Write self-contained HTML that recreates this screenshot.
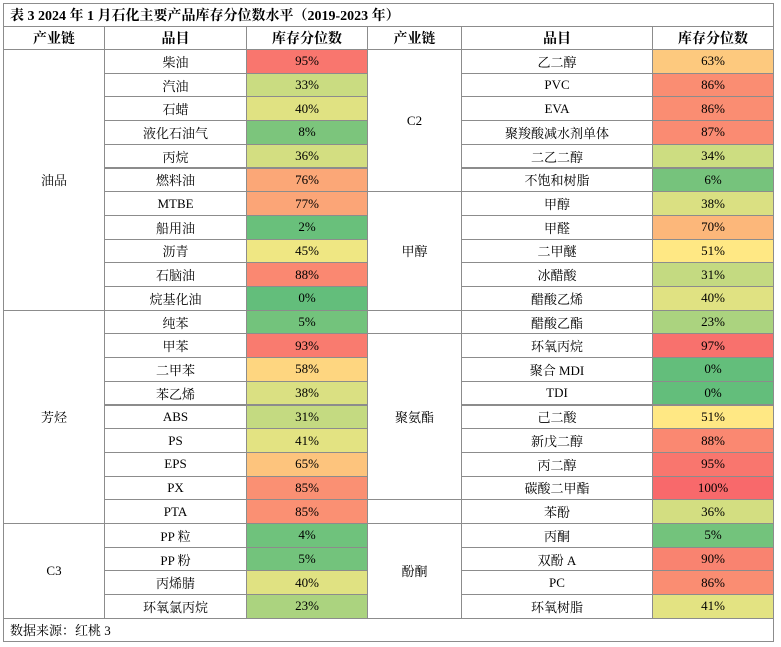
<!DOCTYPE html>
<html><head><meta charset="utf-8"><style>
body{margin:0;width:781px;height:647px;background:#fff;font-family:"Liberation Serif","Noto Serif CJK SC",serif;color:#000;position:relative;overflow:hidden}
.c{position:absolute;box-sizing:border-box;border:1px solid #8c8c8c;display:flex;align-items:center;justify-content:center;font-size:13px;margin:-1px 0 0 -1px}
</style></head><body>
<div id="t"></div>
<script>
const leftItems=["柴油","汽油","石蜡","液化石油气","丙烷","燃料油","MTBE","船用油","沥青","石脑油","烷基化油","纯苯","甲苯","二甲苯","苯乙烯","ABS","PS","EPS","PX","PTA","PP 粒","PP 粉","丙烯腈","环氧氯丙烷"];
const leftVals=[95,33,40,8,36,76,77,2,45,88,0,5,93,58,38,31,41,65,85,85,4,5,40,23];
const leftGroups=[["油品",11],["芳烃",9],["C3",4]];
const rightItems=["乙二醇","PVC","EVA","聚羧酸减水剂单体","二乙二醇","不饱和树脂","甲醇","甲醛","二甲醚","冰醋酸","醋酸乙烯","醋酸乙酯","环氧丙烷","聚合 MDI","TDI","己二酸","新戊二醇","丙二醇","碳酸二甲酯","苯酚","丙酮","双酚 A","PC","环氧树脂"];
const rightVals=[63,86,86,87,34,6,38,70,51,31,40,23,97,0,0,51,88,95,100,36,5,90,86,41];
const rightGroups=[["C2",6],["甲醇",5],["",1],["聚氨酯",7],["",1],["酚酮",4]];
const X=[4,105,247,368,462,653,774];
const top0=50,rh=23.7;
const T=document.getElementById('t');
function lerp(a,b,t){return a.map((v,i)=>Math.round(v+(b[i]-v)*t));}
function col(p){const g=[99,190,123],y=[255,235,132],r=[248,105,107];const c=p<=50?lerp(g,y,p/50):lerp(y,r,(p-50)/50);return `rgb(${c})`;}
function cell(x0,x1,y0,y1,txt,name,bg,st){const d=document.createElement('div');d.className='c';
d.style.left=x0+'px';d.style.top=y0+'px';d.style.width=(x1-x0+1)+'px';d.style.height=(y1-y0+1)+'px';
if(bg)d.style.background=bg;if(st)Object.assign(d.style,st);d.textContent=txt;


T.appendChild(d);}
cell(X[0],X[6],4,27,"表 3  2024 年 1 月石化主要产品库存分位数水平（2019-2023 年）","table-title",null,{justifyContent:"flex-start",paddingLeft:"6px",fontWeight:"bold",fontSize:"14px"});
const hd=["产业链","品目","库存分位数","产业链","品目","库存分位数"];
hd.forEach((h,i)=>cell(X[i],X[i+1],27,top0,h,"header-"+i,null,{fontWeight:"bold",fontSize:"14px"}));
function side(items,vals,groups,o,pref){
 let r=0;groups.forEach((g,gi)=>{cell(X[o],X[o+1],top0+r*rh,top0+(r+g[1])*rh,g[0],pref+"-group-"+gi);r+=g[1];});
 items.forEach((it,i)=>{const y0=top0+i*rh,y1=top0+(i+1)*rh;
  cell(X[o+1],X[o+2],y0,y1,it,pref+"-item-"+i);
  cell(X[o+2],X[o+3],y0,y1,vals[i]+"%",pref+"-value-"+i,col(vals[i]));});
}
side(leftItems,leftVals,leftGroups,0,"left");
side(rightItems,rightVals,rightGroups,3,"right");
const yb=top0+24*rh;
cell(X[0],X[6],yb,642,"数据来源：红桃 3","source-note",null,{justifyContent:"flex-start",paddingLeft:"6px"});
</script>
</body></html>
